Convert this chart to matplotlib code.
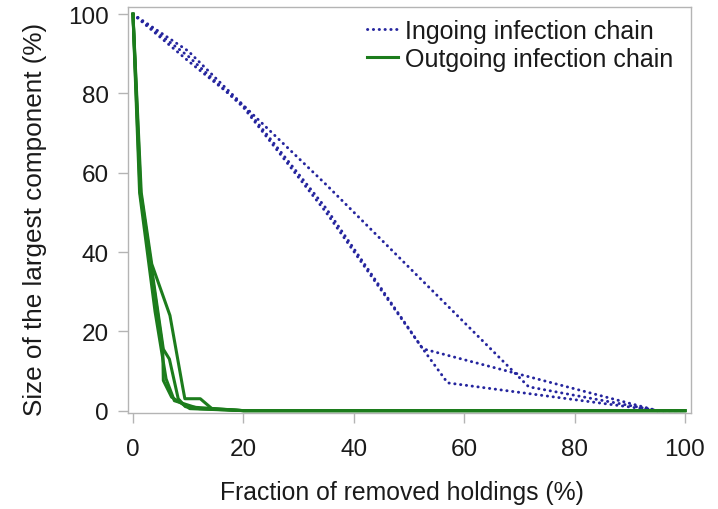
import numpy as np
import matplotlib
matplotlib.use("Agg")
import matplotlib.pyplot as plt

plt.rcParams['font.family'] = ['Liberation Sans', 'DejaVu Sans']

# Ingoing infection chain (blue dotted)
in1_x = [0, 10, 20, 35, 52.5, 57, 95, 100]
in1_y = [100, 90.7, 77, 51, 15.6, 7, 0, 0]
in2_x = [0, 10, 20, 35, 52.5, 95, 100]
in2_y = [100, 89.4, 76.5, 50, 15.6, 0, 0]
in3_x = [0, 10, 20, 35, 71.7, 95, 100]
in3_y = [100, 88.2, 77, 57, 6, 0, 0]

# Outgoing infection chain (green solid)
out1_x = [0, 1.5, 3.4, 6.7, 9.0, 9.4, 12.2, 14.3, 20, 100]
out1_y = [100, 55, 37, 24, 6, 3, 3, 0.5, 0, 0]
out2_x = [0, 1.3, 5.4, 5.5, 7.0, 10.3, 20, 100]
out2_y = [100, 55, 15.5, 7.6, 3.4, 0.5, 0, 0]
out3_x = [0, 1.4, 5.5, 6.6, 8.2, 9.5, 20, 100]
out3_y = [100, 55, 15.5, 13, 3, 1, 0, 0]
out4_x = [0, 1.2, 4.0, 6.0, 7.5, 12, 20, 100]
out4_y = [100, 55, 25, 8, 2.5, 0.5, 0, 0]

ingoing = [(in1_x, in1_y), (in2_x, in2_y), (in3_x, in3_y)]
outgoing = [(out1_x, out1_y), (out2_x, out2_y), (out3_x, out3_y), (out4_x, out4_y)]

BLUE = '#25259e'
GREEN = '#1c7c1c'
GRAY = '#b4b4b4'
TXT = '#1a1a1a'

fig = plt.figure(figsize=(7.18, 5.10), dpi=100)
ax = fig.add_axes([128 / 718, 96 / 510, 563 / 718, 406 / 510])

for i, (x, y) in enumerate(ingoing):
    ax.plot(x, y, color=BLUE, lw=2.1, linestyle=(0, (0.1, 1.9)),
            dash_capstyle='round',
            label='Ingoing infection chain' if i == 0 else None, zorder=2)
for i, (x, y) in enumerate(outgoing):
    ax.plot(x, y, color=GREEN, lw=2.2,
            label='Outgoing infection chain' if i == 0 else None, zorder=3)

ax.set_xlim(-0.9, 101.1)
ax.set_ylim(-0.6, 101.8)
ax.set_xticks([0, 20, 40, 60, 80, 100])
ax.set_yticks([0, 20, 40, 60, 80, 100])

for s in ax.spines.values():
    s.set_color(GRAY)
    s.set_linewidth(1.0)
ax.tick_params(axis='both', colors=GRAY, labelcolor=TXT, labelsize=17.5,
               length=7, width=1.0, direction='out')
ax.tick_params(axis='x', pad=11)
ax.tick_params(axis='y', pad=7)

ax.set_xlabel('Fraction of removed holdings (%)', fontsize=17.8, color=TXT)
ax.set_ylabel('Size of the largest component (%)', fontsize=18.8, color=TXT)
ax.xaxis.set_label_coords(0.486, -0.165)
ax.yaxis.set_label_coords(-0.143, 0.478)

leg = ax.legend(loc='upper left', bbox_to_anchor=(367 / 718, 1 - 20 / 510),
                bbox_transform=fig.transFigure, frameon=False, fontsize=18,
                handlelength=1.25, handletextpad=0.25, labelspacing=0.15,
                borderpad=0, borderaxespad=0)
for t in leg.get_texts():
    t.set_color(TXT)

fig.savefig('out.png', dpi=100)
